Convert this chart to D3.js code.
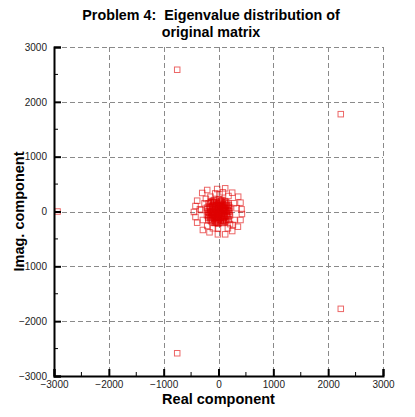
<!DOCTYPE html>
<html><head><meta charset="utf-8">
<script src="https://cdn.jsdelivr.net/npm/d3@7"></script>
<style>body{margin:0;background:#fff}svg{display:block}text{font-family:"Liberation Sans",Arial,Helvetica,sans-serif}</style>
</head><body>
<script>
const titleLines = ["Problem 4:  Eigenvalue distribution of", "original matrix"];
const xLabel = "Real component";
const yLabel = "Imag. component";
const majorTicks = [-3000, -2000, -1000, 0, 1000, 2000, 3000];
const minorTicks = [-2500, -1500, -500, 500, 1500, 2500];
// Outlying eigenvalues
const outlierRe = [-753, -753, 2230, 2230, -2935];
const outlierIm = [2585, -2585, 1775, -1775, 0];
// Outer ring of the central cluster
const ringRe = [122, -24, -206, -297, 250, 359, -389, 401, -420, 420, -449, 427, -420, 401, -389, 354, -285, 250, -164, 122, -11, -102, -146, 18, 182, 281, -255, -316, -285, 292, 263, -206, 171, -11, 80, -60, 330, -340, 210, -230];
const ringIm = [423, 410, 392, 338, 343, 270, 197, 161, 100, 40, -9, -46, -100, -155, -204, -277, -337, -356, -379, -416, -416, -306, 270, 319, 283, 150, 150, 27, -155, -155, -246, -264, -306, -306, 350, 330, 60, 40, -230, 230];
// Dense core of the cluster
const coreRe = [0, 30, -30, 60, -60, 90, -90, 120, -120, 150, -150, 180, -180, 0, 0, 0, 0, 40, -40, 70, -70, 100, -100, 130, -130, 40, -40, 70, -70, 100, -100, 130, -130, 20, -20, 50, -50, 80, -80, 110, -110, 20, -20, 50, -50, 80, -80, 110, -110, 160, -160, 160, -160, 10, -10, 0, 200, -200, 60, -60, 140, -140, 140, -140, 190, -190, 30, -30, 90, -90];
const coreIm = [0, 20, -20, 40, -40, 10, -10, 30, -30, 0, 0, 20, -20, 60, -60, 120, -120, 90, -90, 120, -120, 70, -70, 50, -50, -160, 160, -90, 90, -140, 140, 110, -110, 180, -180, -50, 50, -170, 170, 0, 0, 100, -100, 200, -200, 60, -60, -100, 100, 90, -90, -80, 80, 220, -220, -210, -40, 40, 170, -170, 170, -170, -150, 150, 110, -110, -110, 110, -200, 200];
const core2Re = [15, 45, -45, 75, -75, 105, -105, 135, -135, 165, -165, 25, -25, 55, -55, 85, -85, 35, -35, 65, -65, 95, -95, 125, -125, 155, -155, 185, -185, 10, -10, 0, 0, 0, 0, 45, -45, 115, -115, 150, -150, 175, -175, 195, -195, 210, -210, 210, -210, 120, -120, -120, 120, 70, -70, -70, 70, 25, -25, 55, -55, 85, -85, 115, -115, 145, -145, 35, -35, 65, -65, 100, -100, 140, -140, 180, -180, 180, -180];
const core2Im = [-15, 15, -15, 25, -25, -20, 20, 15, -15, 30, -30, 75, -75, 105, -105, 135, -135, 145, -145, -75, 75, -115, 115, -85, 85, -55, 55, 60, -60, 45, -45, 95, -95, 155, -155, 190, -190, 155, -155, 125, -125, -100, 100, 0, 0, 70, -70, -70, 70, 190, -190, 190, -190, 210, -210, 210, -210, -30, 30, -45, 45, 60, -60, 70, -70, -30, 30, -115, 115, -140, 140, -175, 175, -175, 175, -150, 150, 150, -150];

const W = 415, H = 417;
const margin = {left: 54, right: 32, top: 47, bottom: 41};
const svg = d3.select("body").append("svg").attr("width", W).attr("height", H);
const x = d3.scaleLinear().domain([-3000, 3000]).range([margin.left, W - margin.right]);
const y = d3.scaleLinear().domain([-3000, 3000]).range([H - margin.bottom, margin.top]);

// Grid
const grid = svg.append("g").attr("stroke", "#8a8a8a").attr("stroke-width", 1).attr("stroke-dasharray", "5,3");
grid.selectAll(".gx").data(majorTicks.filter(d => d !== -3000)).join("line")
  .attr("x1", d => Math.round(x(d)) + 0.5).attr("x2", d => Math.round(x(d)) + 0.5)
  .attr("y1", y(3000)).attr("y2", y(-3000));
grid.selectAll(".gy").data(majorTicks.filter(d => d !== -3000)).join("line")
  .attr("y1", d => Math.round(y(d)) + 0.5).attr("y2", d => Math.round(y(d)) + 0.5)
  .attr("x1", x(-3000)).attr("x2", x(3000));

// Points
const pts = [];
outlierRe.forEach((v, i) => pts.push([v, outlierIm[i]]));
ringRe.forEach((v, i) => pts.push([v, ringIm[i]]));
coreRe.forEach((v, i) => pts.push([v, coreIm[i]]));
core2Re.forEach((v, i) => pts.push([v, core2Im[i]]));
const s = 5.5;
svg.append("g").selectAll("rect").data(pts).join("rect")
  .attr("x", d => x(d[0]) - s / 2).attr("y", d => y(d[1]) - s / 2)
  .attr("width", s).attr("height", s)
  .attr("fill", "none").attr("stroke", "#e00000").attr("stroke-opacity", 0.6).attr("stroke-width", 1);

// Axes
const xAxis = d3.axisBottom(x).tickValues(majorTicks).tickSize(-7).tickPadding(5).tickFormat(d3.format("d"));
const gx = svg.append("g").attr("transform", `translate(0,${y(-3000)})`).call(xAxis);
gx.select(".domain").attr("stroke-width", 2);
gx.selectAll(".tick line").attr("stroke-width", 2);
gx.selectAll(".tick text").attr("font-size", 10).attr("fill", "#222");
svg.append("g").selectAll("line").data(minorTicks).join("line")
  .attr("x1", d => x(d)).attr("x2", d => x(d)).attr("y1", y(-3000)).attr("y2", y(-3000) - 4)
  .attr("stroke", "#000").attr("stroke-width", 1);

const yAxis = d3.axisLeft(y).tickValues(majorTicks).tickSize(-7).tickPadding(7).tickFormat(d3.format("d"));
const gy = svg.append("g").attr("transform", `translate(${x(-3000)},0)`).call(yAxis);
gy.select(".domain").attr("stroke-width", 2);
gy.selectAll(".tick line").attr("stroke-width", 2);
gy.selectAll(".tick text").attr("font-size", 10).attr("fill", "#222");
svg.append("g").selectAll("line").data(minorTicks).join("line")
  .attr("y1", d => y(d)).attr("y2", d => y(d)).attr("x1", x(-3000)).attr("x2", x(-3000) + 4)
  .attr("stroke", "#000").attr("stroke-width", 1);
svg.selectAll(".domain").attr("stroke", "#000");

// Titles
svg.append("text").attr("x", 211).attr("y", 20).attr("text-anchor", "middle")
  .attr("font-size", 14.3).attr("font-weight", "bold").attr("xml:space", "preserve")
  .style("white-space", "pre").text(titleLines[0]);
svg.append("text").attr("x", 211).attr("y", 36.5).attr("text-anchor", "middle")
  .attr("font-size", 14.3).attr("font-weight", "bold").text(titleLines[1]);
svg.append("text").attr("x", x(0)).attr("y", 404).attr("text-anchor", "middle")
  .attr("font-size", 14.5).attr("font-weight", "bold").text(xLabel);
svg.append("text").attr("transform", `translate(24,${y(0)}) rotate(-90)`).attr("text-anchor", "middle")
  .attr("font-size", 14.5).attr("font-weight", "bold").text(yLabel);
</script>
</body></html>
